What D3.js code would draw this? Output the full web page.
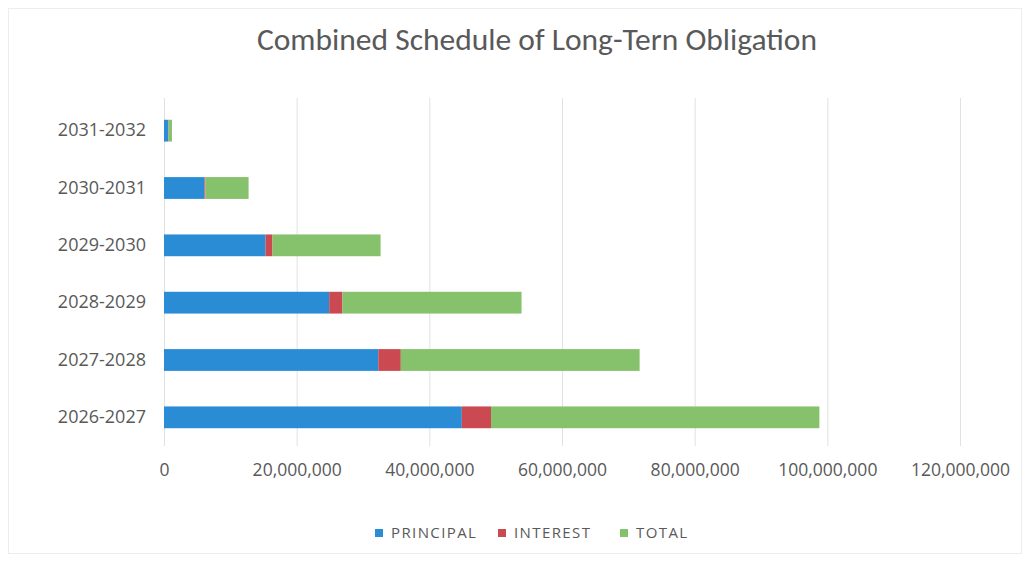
<!DOCTYPE html>
<html>
<head>
<meta charset="utf-8">
<script src="https://cdn.jsdelivr.net/npm/d3@7"></script>
<style>
	body { margin: 0; background: #fff; }
	svg { display: block; font-family: "Open Sans", sans-serif; }
</style>
</head>
<body>
<svg id="chart" width="1031" height="561"></svg>
<script>
// values (dollars)
var years = ["2026-2027", "2027-2028", "2028-2029", "2029-2030", "2030-2031", "2031-2032"];
var principal = [44900000, 32300000, 24900000, 15300000, 6100000, 650000];
var interest = [4400000, 3400000, 2000000, 1050000, 150000, 50000];
var total = [49500000, 36000000, 27000000, 16300000, 6500000, 500000];
var xTicks = [0, 20000000, 40000000, 60000000, 80000000, 100000000, 120000000];
var seriesNames = ["PRINCIPAL", "INTEREST", "TOTAL"];
var seriesColors = ["#2b8cd6", "#cb4a51", "#86c16b"];

var svg = d3.select("#chart");
var margin = {top: 102, right: 71, bottom: 115, left: 164},
	width = 1031 - margin.left - margin.right,
	height = 561 - margin.top - margin.bottom;

// faint outer frame of the chart
svg.append("rect")
	.attr("x", 8.5).attr("y", 8.5)
	.attr("width", 1013).attr("height", 545)
	.attr("fill", "none")
	.attr("stroke", "#ededed");

svg.append("text")
	.attr("x", 537).attr("y", 50)
	.attr("text-anchor", "middle")
	.style("font-family", "Carlito, Lato, sans-serif")
	.style("font-size", "31.5px")
	.style("fill", "#595959")
	.text("Combined Schedule of Long-Tern Obligation");

var g = svg.append("g").attr("transform", "translate(" + margin.left + "," + margin.top + ")");

var x = d3.scaleLinear().domain([0, 120000000]).range([0, width]);
// first category at the bottom, like Excel
var y = d3.scaleBand().domain(years.slice().reverse()).range([0, height]).paddingInner(0.62).paddingOuter(0.31);

// gridlines
g.selectAll(".grid")
	.data(xTicks)
	.enter().append("line")
	.attr("x1", function(d) { return x(d) + 0.5; })
	.attr("x2", function(d) { return x(d) + 0.5; })
	.attr("y1", -4).attr("y2", height)
	.attr("stroke", "#e1e1e1");

var rows = years.map(function(d, i) {
	return {year: d, PRINCIPAL: principal[i], INTEREST: interest[i], TOTAL: total[i]};
});
var stacked = d3.stack().keys(seriesNames)(rows);

g.selectAll(".series")
	.data(stacked)
	.enter().append("g")
	.attr("fill", function(d, i) { return seriesColors[i]; })
	.selectAll("rect")
	.data(function(d) { return d; })
	.enter().append("rect")
	.attr("x", function(d) { return x(d[0]); })
	.attr("width", function(d) { return x(d[1]) - x(d[0]); })
	.attr("y", function(d) { return y(d.data.year); })
	.attr("height", y.bandwidth());

// x axis labels
var fmt = d3.format(",");
var xAxis = g.append("g")
	.attr("transform", "translate(0," + height + ")")
	.call(d3.axisBottom(x).tickValues(xTicks).tickFormat(function(d) { return fmt(d); }).tickSize(0).tickPadding(18));
xAxis.select(".domain").remove();
xAxis.selectAll("text")
	.style("font-size", "17.5px")
	.style("fill", "#595959")
	.style("font-family", "'Open Sans', sans-serif");

// y axis labels
var yAxis = g.append("g")
	.call(d3.axisLeft(y).tickSize(0).tickPadding(18));
yAxis.select(".domain").remove();
yAxis.selectAll("text")
	.style("font-size", "18px")
	.style("fill", "#595959")
	.style("font-family", "'Open Sans', sans-serif");

// legend
var legendX = [375, 498, 620];
var legend = svg.selectAll(".legend")
	.data(seriesNames)
	.enter().append("g")
	.attr("transform", function(d, i) { return "translate(" + legendX[i] + ",533)"; });
legend.append("rect")
	.attr("x", 0).attr("y", -4)
	.attr("width", 8).attr("height", 8)
	.attr("fill", function(d, i) { return seriesColors[i]; });
legend.append("text")
	.attr("x", 16).attr("dy", "0.35em")
	.style("font-size", "15px")
	.style("fill", "#595959")
	.style("letter-spacing", "1.4px")
	.text(function(d) { return d; });
</script>
</body>
</html>
